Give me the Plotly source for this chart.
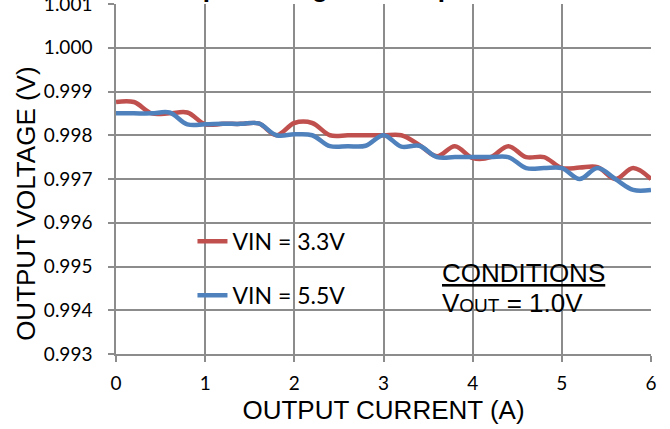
import plotly.graph_objects as go

current = [round(0.2 * i, 1) for i in range(31)]
vin_33 = [0.99876, 0.99876, 0.99850, 0.99850, 0.99852, 0.99825, 0.99826, 0.99826, 0.99827, 0.99800,
          0.99828, 0.99828, 0.99800, 0.99800, 0.99800, 0.99800, 0.99800, 0.99778, 0.99752, 0.99775,
          0.99748, 0.99750, 0.99775, 0.99750, 0.99750, 0.99725, 0.99726, 0.99727, 0.99700, 0.99725,
          0.99700]
vin_55 = [0.99850, 0.99850, 0.99850, 0.99852, 0.99825, 0.99825, 0.99826, 0.99826, 0.99827, 0.99800,
          0.99802, 0.99800, 0.99775, 0.99775, 0.99776, 0.99800, 0.99774, 0.99776, 0.99750, 0.99750,
          0.99750, 0.99750, 0.99750, 0.99725, 0.99725, 0.99725, 0.99700, 0.99725, 0.99700, 0.99675,
          0.99675]
series_names = ["VIN = 3.3V", "VIN = 5.5V"]
series_colors = ["#C0504D", "#4F81BD"]
x_ticks = [0, 1, 2, 3, 4, 5, 6]
y_ticks = [0.993, 0.994, 0.995, 0.996, 0.997, 0.998, 0.999, 1.000, 1.001]

W, H = 670, 429
L, R, T, B = 115.5, 650.7, 4.4, 354.0
pw, ph = R - L, B - T

def px(xp):
    return (xp - L) / pw

def py(yp):
    return (B - yp) / ph

fig = go.Figure()
for i, (name, vals, col) in enumerate(zip(series_names, [vin_33, vin_55], series_colors)):
    fig.add_trace(go.Scatter(x=current, y=vals, mode="lines", name=name,
                             legendgroup=str(i),
                             line=dict(color=col, width=4.5, shape="spline", smoothing=1)))

grid = "#8c8c8c"
fig.update_layout(
    width=W, height=H,
    margin=dict(l=L, r=W - R, t=T, b=H - B, pad=0, autoexpand=False),
    paper_bgcolor="white", plot_bgcolor="white",
    showlegend=True,
    legend=dict(x=px(192), y=py(220), xanchor="left", yanchor="top",
                bgcolor="rgba(0,0,0,0)", font=dict(family="Lato", size=23, color="black"),
                tracegroupgap=21, itemwidth=30),
    xaxis=dict(range=[0, 6], tickvals=x_ticks, ticktext=[str(v) for v in x_ticks],
               showgrid=True, gridcolor=grid, gridwidth=1.5,
               showline=True, linecolor=grid, linewidth=1.5,
               ticks="outside", ticklen=6, tickcolor=grid, tickwidth=1.5,
               tickfont=dict(family="Lato", size=19, color="black"),
               ticklabelstandoff=5, automargin=False, ticklabeloverflow="allow",
               title=dict(text="OUTPUT CURRENT (A)", font=dict(family="Liberation Sans", size=26, color="black"),
                          standoff=8),
               zeroline=False, fixedrange=True),
    yaxis=dict(range=[0.993, 1.001], tickvals=y_ticks, ticktext=["%.3f" % v for v in y_ticks],
               showgrid=True, gridcolor=grid, gridwidth=1.5,
               showline=True, linecolor=grid, linewidth=1.5,
               ticks="outside", ticklen=6, tickcolor=grid, tickwidth=1.5,
               tickfont=dict(family="Lato", size=19, color="black"),
               ticklabelstandoff=12, automargin=False, ticklabeloverflow="allow",
               zeroline=False, fixedrange=True),
    shapes=[
        dict(type="rect", xref="paper", yref="paper", x0=px(148), x1=px(372), y0=py(324), y1=py(212),
             fillcolor="white", line=dict(width=0), layer="between"),
        dict(type="rect", xref="paper", yref="paper", x0=px(422), x1=px(640), y0=py(332), y1=py(245),
             fillcolor="white", line=dict(width=0), layer="between"),
    ],
    annotations=[
        dict(text="OUTPUT VOLTAGE (V)", textangle=-90, xref="paper", yref="paper",
             x=px(26), y=py(204.5), xanchor="center", yanchor="middle", showarrow=False,
             font=dict(family="Liberation Sans", size=26, color="black")),
        dict(text="<u>CONDITIONS</u>",
             xref="paper", yref="paper", x=px(440), y=py(272.6), xanchor="left", yanchor="middle",
             align="left", showarrow=False,
             font=dict(family="Liberation Sans", size=26, color="black")),
        dict(text="V<span style='font-size:19px'>OUT</span> = 1.0V",
             xref="paper", yref="paper", x=px(440), y=py(302.6), xanchor="left", yanchor="middle",
             align="left", showarrow=False,
             font=dict(family="Liberation Sans", size=26, color="black")),
        dict(text="<b>Output Voltage vs. Output Current</b>", xref="paper", yref="paper",
             x=px(369), y=py(-11.6), xanchor="center", yanchor="middle", showarrow=False,
             font=dict(family="Liberation Sans", size=26, color="black")),
    ],
)

fig.write_html("out.html", config={"displayModeBar": False},
               post_script="document.body.style.margin='0';document.body.style.padding='0';")
